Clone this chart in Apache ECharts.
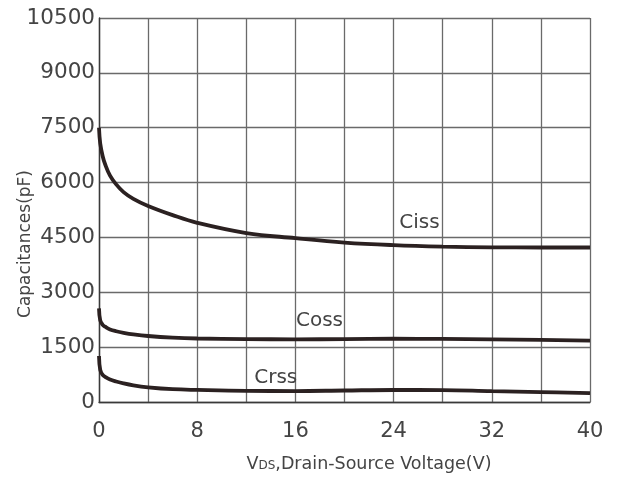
<!DOCTYPE html>
<html>
<head>
<meta charset="utf-8">
<script src="https://cdn.jsdelivr.net/npm/echarts@6/dist/echarts.min.js"></script>
<style>
  html, body { margin: 0; padding: 0; background: #fff; }
  #chart { width: 620px; height: 479px; }
</style>
</head>
<body>
<div id="chart"></div>
<script>
// Drain-source voltage samples (V)
var vds = [0, 0.1, 0.3, 0.5, 0.9, 1.4, 2, 2.8, 4, 6, 8, 12, 16, 20, 24, 28, 32, 36, 40];
// Capacitances (pF)
var ciss = [7500, 7070, 6720, 6500, 6190, 5950, 5740, 5555, 5360, 5110, 4900, 4620, 4480, 4360, 4290, 4250, 4230, 4225, 4225];
var coss = [2560, 2230, 2110, 2060, 1985, 1935, 1893, 1850, 1805, 1760, 1737, 1720, 1715, 1720, 1730, 1725, 1715, 1700, 1680];
var crss = [1260, 880, 740, 690, 615, 560, 508, 455, 402, 350, 330, 305, 300, 315, 328, 325, 295, 270, 240];

// Curve name tags placed in data space [V, pF]
var tagCiss = [26.1, 4895];
var tagCoss = [17.96, 2215];
var tagCrss = [14.4, 670];

var xTicks = [0, 8, 16, 24, 32, 40];
var yTicks = [0, 1500, 3000, 4500, 6000, 7500, 9000, 10500];

var FONT = 'DejaVu Sans';
var TEXT = '#444444';
var CURVE = '#2b2121';

function pairs(ys) {
  return vds.map(function (v, i) { return [v, ys[i]]; });
}

function curve(name, ys, tag) {
  return {
    name: name,
    type: 'line',
    data: pairs(ys),
    smooth: 0.4,
    symbol: 'none',
    lineStyle: { color: CURVE, width: 3.8 },
    markPoint: {
      symbol: 'circle',
      symbolSize: 0,
      data: [{ coord: tag }],
      label: {
        show: true,
        position: 'inside',
        formatter: name,
        color: TEXT,
        fontFamily: FONT,
        fontSize: 20
      }
    },
    z: 5
  };
}

var chart = echarts.init(document.getElementById('chart'), null, { renderer: 'canvas' });
chart.setOption({
  animation: false,
  backgroundColor: '#ffffff',
  grid: { left: 99, top: 18, width: 491, height: 384, containLabel: false },
  xAxis: {
    type: 'value',
    min: xTicks[0],
    max: xTicks[xTicks.length - 1],
    interval: 4,
    axisLine: { show: true, lineStyle: { color: '#3a3a3a', width: 1.4 } },
    axisTick: { show: false },
    axisLabel: {
      margin: 19,
      color: TEXT,
      fontFamily: FONT,
      fontSize: 21,
      formatter: function (v) { return xTicks.indexOf(v) >= 0 ? String(v) : ''; }
    },
    splitLine: { show: true, lineStyle: { color: '#6a6a6a', width: 1.3 } }
  },
  yAxis: {
    type: 'value',
    min: yTicks[0],
    max: yTicks[yTicks.length - 1],
    interval: 1500,
    axisLine: { show: true, lineStyle: { color: '#3a3a3a', width: 1.4 } },
    axisTick: { show: false },
    axisLabel: {
      margin: 4,
      color: TEXT,
      fontFamily: FONT,
      fontSize: 21.5,
      formatter: function (v) { return yTicks.indexOf(v) >= 0 ? String(v) : ''; }
    },
    splitLine: { show: true, lineStyle: { color: '#6a6a6a', width: 1.3 } }
  },
  graphic: [
    {
      type: 'text',
      x: 26, y: 244,
      rotation: Math.PI / 2,
      style: {
        text: 'Capacitances(pF)',
        fontFamily: FONT, fontSize: 17, fill: TEXT,
        align: 'center', verticalAlign: 'middle'
      }
    },
    {
      type: 'text',
      x: 369, y: 464,
      style: {
        text: '{m|V}{s|DS}{m|,Drain-Source Voltage(V)}',
        align: 'center', verticalAlign: 'middle',
        rich: {
          m: { fontFamily: FONT, fontSize: 17.5, fill: TEXT, color: TEXT },
          s: { fontFamily: FONT, fontSize: 12, fill: TEXT, color: TEXT, padding: [4, 0, 0, 0] }
        }
      }
    }
  ],
  series: [
    curve('Ciss', ciss, tagCiss),
    curve('Coss', coss, tagCoss),
    curve('Crss', crss, tagCrss)
  ]
});
</script>
</body>
</html>
